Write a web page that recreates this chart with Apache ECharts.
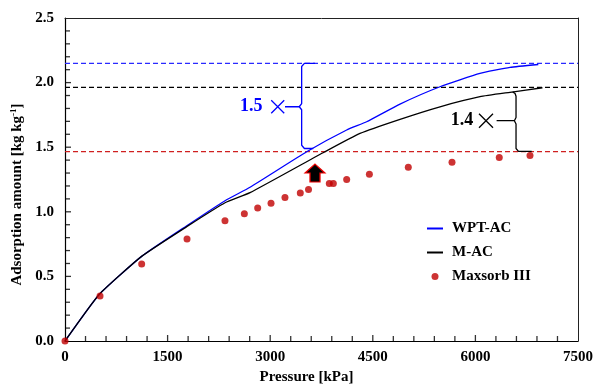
<!DOCTYPE html>
<html>
<head>
<meta charset="utf-8">
<script src="https://cdn.jsdelivr.net/npm/echarts@6/dist/echarts.min.js"></script>
<style>
  html, body { margin: 0; padding: 0; background: #fff; }
  #chart { width: 593px; height: 385px; }
</style>
</head>
<body>
<div id="chart"></div>
<script>
// WPT-AC isotherm
const pressureWPT = [0, 500, 1120, 1780, 2340, 2705, 3533, 4118, 4410, 4898, 5482, 6067, 6506, 6920]
const amountWPT = [0, 0.36, 0.655, 0.892, 1.086, 1.19, 1.465, 1.633, 1.697, 1.834, 1.968, 2.072, 2.118, 2.14]

// M-AC isotherm
const pressureMAC = [0, 500, 1120, 1780, 2340, 2705, 3800, 4313, 4898, 5482, 6067, 6506, 6980]
const amountMAC = [0, 0.36, 0.655, 0.885, 1.07, 1.148, 1.465, 1.607, 1.716, 1.813, 1.891, 1.925, 1.96]

// Maxsorb III measured points
const pressureMaxsorb = [0, 512, 1121, 1784, 2339, 2622, 2817, 3012, 3216, 3440, 3560, 3864, 3923, 4118, 4450, 5019, 5658, 6349, 6798]
const amountMaxsorb = [0, 0.348, 0.596, 0.79, 0.93, 0.985, 1.03, 1.066, 1.11, 1.145, 1.172, 1.22, 1.22, 1.25, 1.29, 1.344, 1.383, 1.42, 1.435]

// saturation levels (dashed lines across the whole plot)
const levelWPT = 2.149
const levelMAC = 1.963
const levelMaxsorb = 1.465
const pressureRange = [0, 7500]

// tick marks (inside the frame, like the original)
const xMajorTicks = [1500, 3000, 4500, 6000]
const xMinorTicks = [300, 600, 900, 1200, 1800, 2100, 2400, 2700, 3300, 3600, 3900, 4200, 4800, 5100, 5400, 5700, 6300, 6600, 6900, 7200]
const yMajorTicks = [0.5, 1.0, 1.5, 2.0]
const yMinorTicks = [0.1, 0.2, 0.3, 0.4, 0.6, 0.7, 0.8, 0.9, 1.1, 1.2, 1.3, 1.4, 1.6, 1.7, 1.8, 1.9, 2.1, 2.2, 2.3, 2.4]

// brace annotations, in data units
const braceWPT = [[3655, 2.149], [3500, 2.149], [3460, 2.125], [3460, 1.838], [3425, 1.813], [3216, 1.813], [3425, 1.813], [3460, 1.79], [3460, 1.515], [3500, 1.49], [3630, 1.49]]
const braceMAC = [[6545, 1.928], [6580, 1.915], [6594, 1.895], [6594, 1.73], [6570, 1.705], [6310, 1.705], [6570, 1.705], [6594, 1.68], [6594, 1.49], [6630, 1.468], [6823, 1.468]]
const ratioWPT = { label: '1.5', at: [3110, 1.813] }
const ratioMAC = { label: '1.4', at: [6155, 1.705] }
const arrowAt = [3655, 1.30]

const serif = "'Times New Roman', 'Liberation Serif', serif"
const pairs = (xs, ys) => xs.map((x, i) => [x, ys[i]])
const crossPath = 'path://M0,0L10,10M10,0L0,10'
const arrowPath = 'path://M10,0L20,9L15,9L15,18L5,18L5,9L0,9Z'

const levelLine = (name, value, color) => ({
  name: name,
  type: 'line',
  symbol: 'none',
  silent: true,
  z: 2,
  lineStyle: { color: color, type: [5, 3], width: 1.2 },
  data: pressureRange.map(p => [p, value])
})

// ticks as thin rect symbols sitting on the axes, pushed into the plot
const tickMarks = (name, values, onX, len) => ({
  name: name,
  type: 'scatter',
  silent: true,
  clip: false,
  z: 6,
  symbol: 'rect',
  symbolSize: onX ? [1.3, len] : [len, 1.3],
  symbolOffset: onX ? [0, -len / 2] : [len / 2, 0],
  itemStyle: { color: '#000' },
  data: values.map(v => onX ? [v, 0] : [0, v])
})

const chart = echarts.init(document.getElementById('chart'), null, { renderer: 'canvas' })

chart.setOption({
  animation: false,
  grid: {
    left: 65, right: 15, top: 18, bottom: 44,
    outerBoundsMode: 'none',
    containLabel: false,
    show: false
  },
  legend: {
    data: [
      { name: 'WPT-AC', itemStyle: { opacity: 0 } },
      { name: 'M-AC', itemStyle: { opacity: 0 } },
      { name: 'Maxsorb III' }
    ],
    orient: 'vertical',
    left: 421,
    top: 216,
    itemWidth: 16,
    itemHeight: 7,
    itemGap: 9,
    textStyle: { fontFamily: serif, fontWeight: 'bold', fontSize: 15, color: '#000', padding: [0, 0, 0, 4] }
  },
  xAxis: [{
    type: 'value',
    min: 0, max: 7500, interval: 1500,
    name: 'Pressure [kPa]',
    nameLocation: 'middle',
    nameGap: 28,
    nameTextStyle: { fontFamily: serif, fontWeight: 'bold', fontSize: 15, color: '#000', padding: [0, 30, 0, 0] },
    axisLine: { show: true, onZero: false, lineStyle: { color: '#000', width: 1.2 } },
    axisTick: { show: false },
    splitLine: { show: false },
    axisLabel: {
      fontFamily: serif, fontWeight: 'bold', fontSize: 15, color: '#000', margin: 9,
      formatter: v => String(v)
    }
  }, {
    // top frame edge
    type: 'value', position: 'top', min: 0, max: 7500,
    axisLine: { show: true, onZero: false, lineStyle: { color: '#222', width: 1 } },
    axisTick: { show: false }, axisLabel: { show: false }, splitLine: { show: false }
  }],
  yAxis: [{
    type: 'value',
    min: 0, max: 2.5, interval: 0.5,
    name: 'Adsorption amount [kg kg{sup|-1}]',
    nameLocation: 'middle',
    nameGap: 40,
    nameTextStyle: {
      fontFamily: serif, fontWeight: 'bold', fontSize: 15, color: '#000', padding: [0, 30, 0, 0],
      rich: { sup: { fontFamily: serif, fontWeight: 'bold', fontSize: 9, color: '#000', verticalAlign: 'top' } }
    },
    axisLine: { show: true, onZero: false, lineStyle: { color: '#000', width: 1.2 } },
    axisTick: { show: false },
    splitLine: { show: false },
    axisLabel: {
      fontFamily: serif, fontWeight: 'bold', fontSize: 15, color: '#000', margin: 11,
      formatter: v => v.toFixed(1)
    }
  }, {
    // right frame edge
    type: 'value', position: 'right', min: 0, max: 2.5,
    axisLine: { show: true, onZero: false, lineStyle: { color: '#222', width: 1 } },
    axisTick: { show: false }, axisLabel: { show: false }, splitLine: { show: false }
  }],
  series: [
    levelLine('level-wpt', levelWPT, '#2a2aff'),
    levelLine('level-mac', levelMAC, '#000'),
    levelLine('level-maxsorb', levelMaxsorb, '#d02020'),
    tickMarks('x-major', xMajorTicks, true, 6),
    tickMarks('x-minor', xMinorTicks, true, 5),
    tickMarks('y-major', yMajorTicks, false, 6),
    tickMarks('y-minor', yMinorTicks, false, 5),
    {
      name: 'WPT-AC',
      type: 'line',
      symbol: 'none',
      smooth: 0.15,
      z: 3,
      lineStyle: { color: '#0000ff', width: 1.3 },
      itemStyle: { color: '#0000ff' },
      data: pairs(pressureWPT, amountWPT)
    },
    {
      name: 'M-AC',
      type: 'line',
      symbol: 'none',
      smooth: 0.15,
      z: 3,
      lineStyle: { color: '#000', width: 1.3 },
      itemStyle: { color: '#000' },
      data: pairs(pressureMAC, amountMAC)
    },
    {
      name: 'Maxsorb III',
      type: 'scatter',
      symbol: 'circle',
      symbolSize: 7,
      z: 5,
      itemStyle: { color: '#c00000' },
      data: pairs(pressureMaxsorb, amountMaxsorb),
      markPoint: {
        silent: true,
        data: [{
          coord: arrowAt,
          symbol: arrowPath,
          symbolSize: [20, 18],
          itemStyle: { color: '#000', borderColor: '#ee0000', borderWidth: 1.2 },
          label: { show: false }
        }]
      }
    },
    {
      name: 'brace-wpt',
      type: 'line',
      symbol: 'none',
      silent: true,
      z: 4,
      lineStyle: { color: '#0000ff', width: 1.3 },
      data: braceWPT,
      markPoint: {
        silent: true,
        data: [{
          coord: ratioWPT.at,
          symbol: crossPath,
          symbolSize: 13,
          itemStyle: { color: '#0000ff', borderColor: '#0000ff', borderWidth: 1.3 },
          label: {
            show: true, position: 'left', distance: 8, formatter: ratioWPT.label,
            fontFamily: serif, fontWeight: 'bold', fontSize: 18, color: '#0000ff'
          }
        }]
      }
    },
    {
      name: 'brace-mac',
      type: 'line',
      symbol: 'none',
      silent: true,
      z: 4,
      lineStyle: { color: '#000', width: 1.3 },
      data: braceMAC,
      markPoint: {
        silent: true,
        data: [{
          coord: ratioMAC.at,
          symbol: crossPath,
          symbolSize: 14,
          itemStyle: { color: '#000', borderColor: '#000', borderWidth: 1.3 },
          label: {
            show: true, position: 'left', distance: 5, formatter: ratioMAC.label,
            fontFamily: serif, fontWeight: 'bold', fontSize: 18, color: '#000'
          }
        }]
      }
    }
  ]
})
</script>
</body>
</html>
